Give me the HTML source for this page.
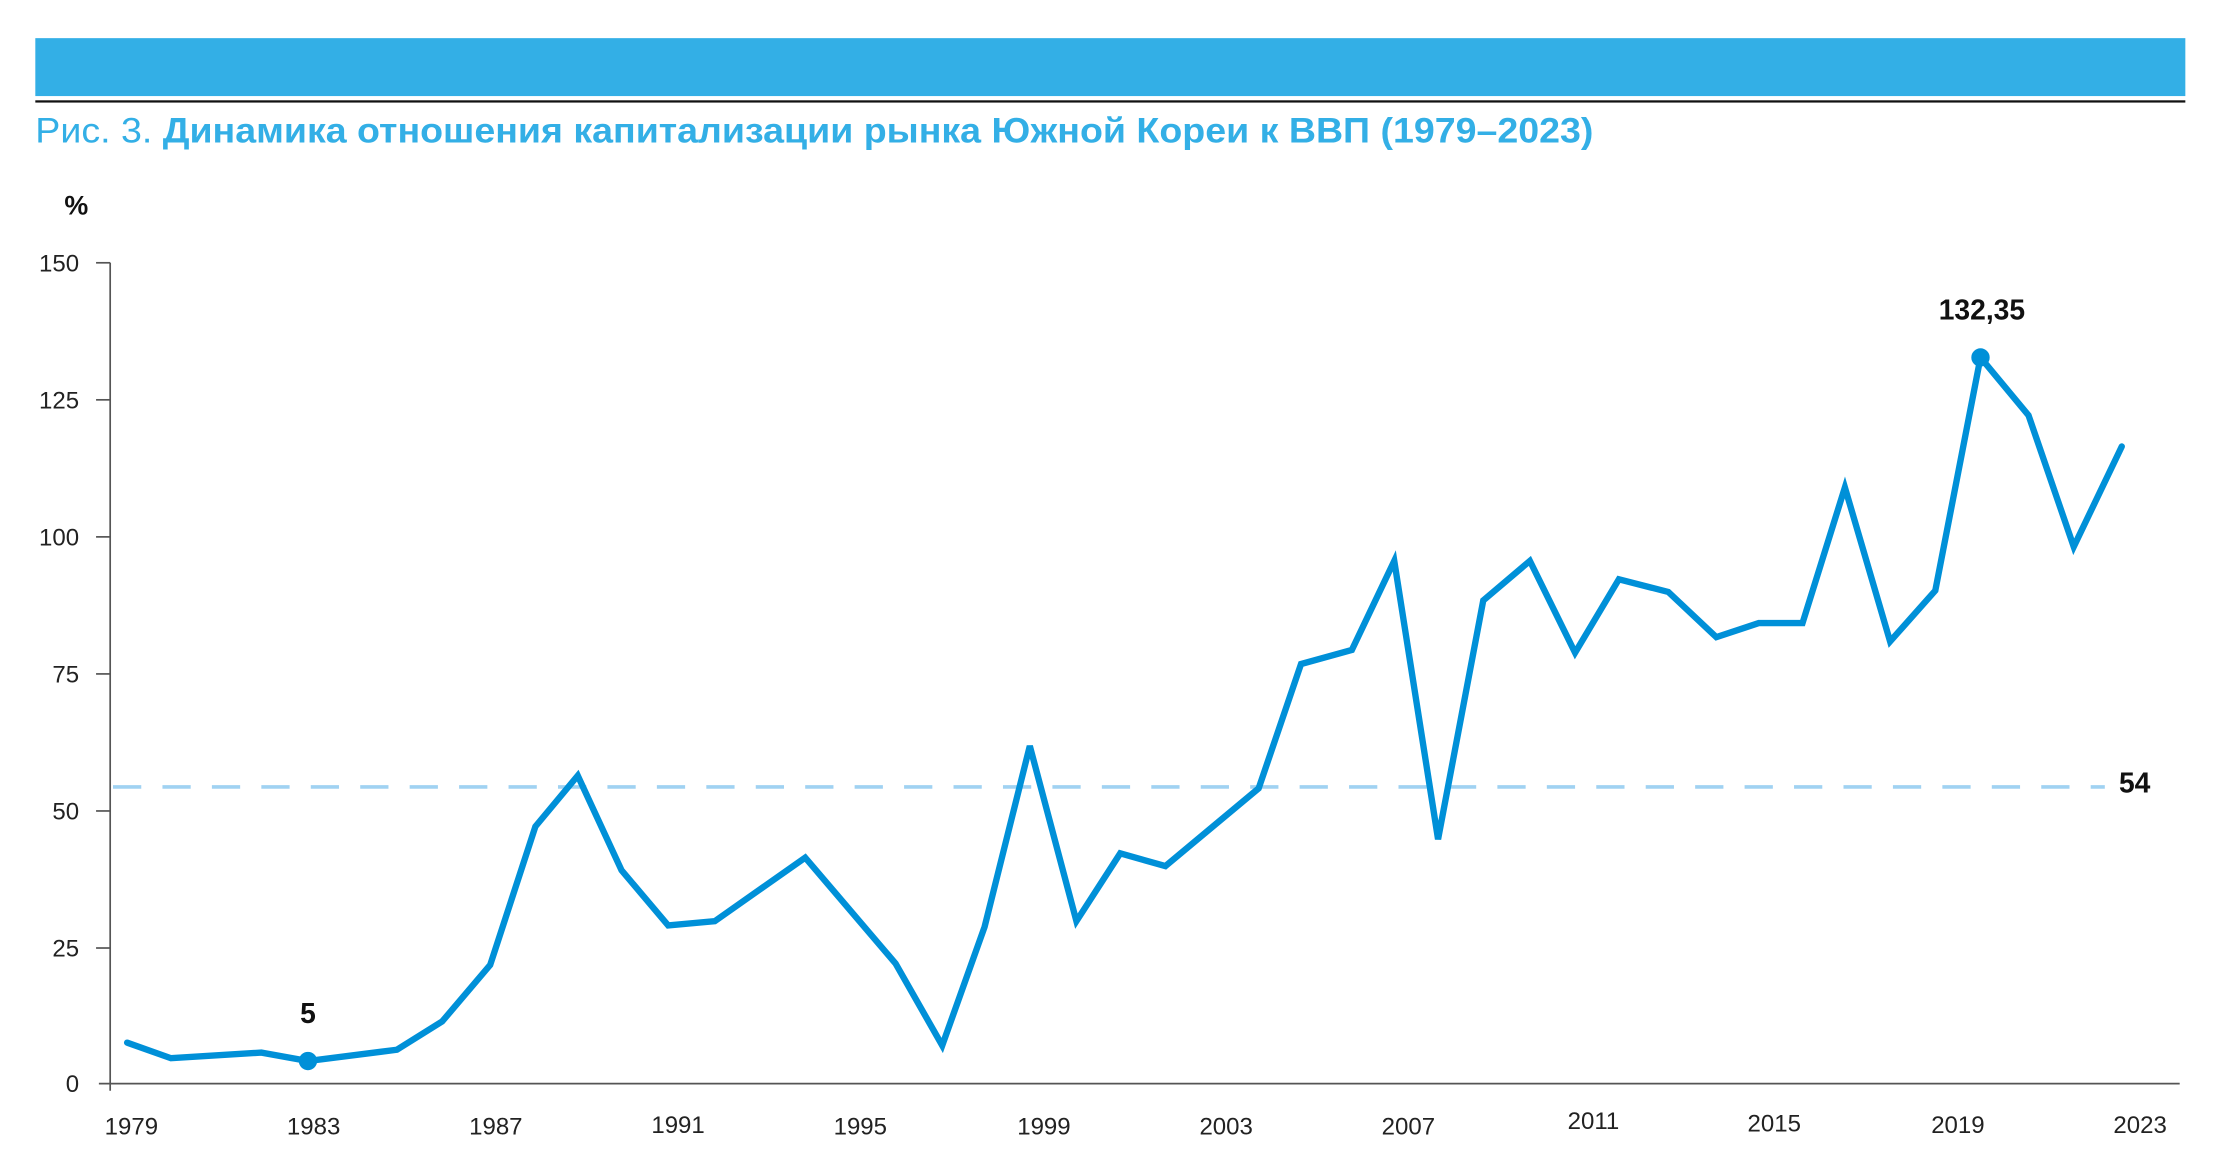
<!DOCTYPE html>
<html><head><meta charset="utf-8"><style>html,body{margin:0;padding:0;background:#fff}svg{display:block}</style></head>
<body>
<svg width="2215" height="1167" viewBox="0 0 1568 826" preserveAspectRatio="none" xmlns="http://www.w3.org/2000/svg" font-family="'Liberation Sans', 'DejaVu Sans', sans-serif">
<rect x="25" y="27" width="1522" height="41" fill="#33afe6"/>
<rect x="25" y="71" width="1522" height="1.6" fill="#111"/>
<text x="25" y="101" font-size="25" fill="#33afe6" textLength="1103" lengthAdjust="spacingAndGlyphs"><tspan>Рис. 3. </tspan><tspan font-weight="bold">Динамика отношения капитализации рынка Южной Кореи к ВВП (1979–2023)</tspan></text>
<text x="54" y="152" font-size="19" font-weight="bold" text-anchor="middle" fill="#111">%</text>
<g font-size="17" fill="#222" text-anchor="end">
<text x="56" y="192">150</text><text x="56" y="289">125</text><text x="56" y="386">100</text><text x="56" y="483">75</text><text x="56" y="580">50</text><text x="56" y="677">25</text><text x="56" y="773">0</text>
</g>
<g stroke="#555" stroke-width="1.2">
<line x1="78" y1="186" x2="78" y2="772"/>
<line x1="68" y1="186" x2="78" y2="186"/><line x1="68" y1="283" x2="78" y2="283"/><line x1="68" y1="380" x2="78" y2="380"/><line x1="68" y1="477" x2="78" y2="477"/><line x1="68" y1="574" x2="78" y2="574"/><line x1="68" y1="671" x2="78" y2="671"/>
<line x1="70" y1="767" x2="1543" y2="767"/>
</g>
<g font-size="17" fill="#222" text-anchor="middle">
<text x="93" y="803">1979</text><text x="222" y="803">1983</text><text x="351" y="803">1987</text><text x="480" y="802">1991</text><text x="609" y="803">1995</text><text x="739" y="803">1999</text><text x="868" y="803">2003</text><text x="997" y="803">2007</text><text x="1128" y="799">2011</text><text x="1256" y="801">2015</text><text x="1386" y="802">2019</text><text x="1515" y="802">2023</text>
</g>
<line x1="80" y1="557" x2="1490" y2="557" stroke="#a0d2f2" stroke-width="2.5" stroke-dasharray="20,15"/>
<text x="1500" y="561" font-size="20" font-weight="bold" fill="#111">54</text>
<polyline fill="none" stroke="#0090d8" stroke-width="4.5" stroke-linejoin="miter" stroke-linecap="round" points="90,738 121,749 185,745 218,751 281,743 313,723 347,683 379,585 409,549 440,616 473,655 506,652 570,607 634,682 667,740 697,656 729,528 762,652 793,604 825,613 891,558 921,470 957,460 987,397 1018,594 1050,425 1083,397 1115,462 1146,410 1181,419 1215,451 1245,441 1276,441 1306,345 1338,454 1370,418 1402,253 1436,294 1468,387 1502,316"/>
<circle cx="218" cy="751" r="6.5" fill="#0090d8"/>
<circle cx="1402" cy="253" r="6.5" fill="#0090d8"/>
<text x="218" y="724" font-size="20" font-weight="bold" fill="#111" text-anchor="middle">5</text>
<text x="1403" y="226" font-size="20" font-weight="bold" fill="#111" text-anchor="middle">132,35</text>
</svg>
</body></html>
